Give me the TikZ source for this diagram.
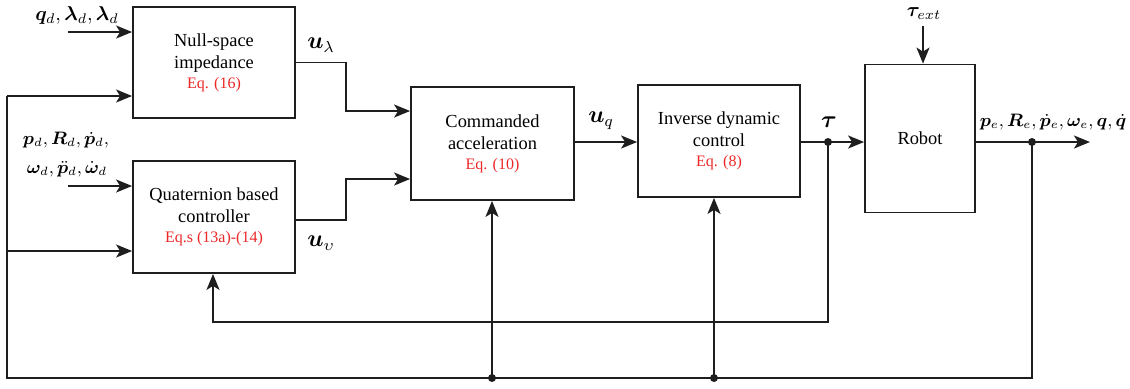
\documentclass[tikz,border=0pt]{standalone}
\usepackage{fontspec}
\setmainfont{Liberation Serif}
\newfontfamily\tms{Liberation Serif}
\usepackage{amsmath}
\usepackage{bm}
\usetikzlibrary{arrows.meta}
\definecolor{eqred}{RGB}{235,40,40}
\definecolor{ln}{RGB}{30,30,30}
\begin{document}
\begin{tikzpicture}[x=0.5pt,y=-0.5pt,
  blk/.style={draw=ln,line width=0.9pt,minimum width=#1,inner sep=0pt,align=center,font=\tms\fontsize{9.2}{11}\selectfont},
  wire/.style={draw=ln,line width=0.9pt},
  arr/.style={wire,-{Stealth[length=8pt,width=6.5pt,inset=2pt]}},
  dot/.style={circle,fill=ln,inner sep=0pt,minimum size=4pt},
  lbl/.style={inner sep=0pt,font=\fontsize{9}{11}\selectfont},
  big/.style={inner sep=0pt,font=\fontsize{11.5}{13}\selectfont}]
\useasboundingbox (0,0) rectangle (1130,388);
% blocks
\node[blk=81pt,minimum height=55.5pt] (nsi) at (214,62.5) {Null-space\\impedance\\[-1pt]{\color{eqred}\fontsize{8}{10}\selectfont Eq. (16)}};
\node[blk=81pt,minimum height=56pt] (qbc) at (214,217) {Quaternion based\\controller\\[-1pt]{\color{eqred}\fontsize{8}{10}\selectfont Eq.s (13a)-(14)}};
\node[blk=81.5pt,minimum height=56.5pt] (cmd) at (492.5,143.5) {Commanded\\acceleration\\[-1pt]{\color{eqred}\fontsize{8}{10}\selectfont Eq. (10)}};
\node[blk=81pt,minimum height=56pt] (idc) at (719,141) {Inverse dynamic\\control\\[-1pt]{\color{eqred}\fontsize{8}{10}\selectfont Eq. (8)}};
\node[blk=55pt,minimum height=74pt] (rob) at (920,138.5) {Robot};
% junction coordinates
\coordinate (jt) at (828,142);
\coordinate (jo) at (1032,142);
\coordinate (out) at (1090,142);
\coordinate (ext) at (923,26);
\coordinate (in1) at (68,32);
\coordinate (in2) at (68,186);
\coordinate (lb) at (7,378);
\coordinate (b1) at (492,378);
\coordinate (b2) at (714,378);
% labels
\node[lbl,font=\fontsize{9.6}{11}\selectfont] (l1) at (77,15) {$\bm{q}_d,\bm{\lambda}_d,\bm{\lambda}_d$};
\node[lbl] (l2a) at (66,140) {$\bm{p}_d,\bm{R}_d,\dot{\bm{p}}_d,$};
\node[lbl] (l2b) at (67,169) {$\bm{\omega}_d,\ddot{\bm{p}}_d,\dot{\bm{\omega}}_d$};
\node[big] (lul) at (321,45) {$\bm{u}_\lambda$};
\node[big] (luv) at (321,243) {$\bm{u}_\upsilon$};
\node[big] (luq) at (601,121) {$\bm{u}_q$};
\node[big] (ltau) at (829,122) {$\bm{\tau}$};
\node[lbl,font=\fontsize{10.3}{12}\selectfont] (lext) at (924,14) {$\bm{\tau}_{ext}$};
\node[lbl,font=\fontsize{8.9}{11}\selectfont] (lout) at (1053,122) {$\bm{p}_e,\bm{R}_e,\dot{\bm{p}}_e,\bm{\omega}_e,\bm{q},\dot{\bm{q}}$};
% inputs
\draw[arr] (in1) -- (nsi.west |- in1);
\draw[arr] (in2) -- (qbc.west |- in2);
\draw[arr] (ext) -- (rob.north -| ext);
% outputs of left blocks
\draw[arr] (nsi.east) -- (346,62.5) |- (cmd.west |- 0,111);
\draw[arr] (qbc.east |- 0,220) -- (346,220) |- (cmd.west |- 0,179);
% main chain
\draw[arr] (cmd.east |- 0,142) -- (idc.west |- 0,142);
\draw[arr] (idc.east |- 0,142) -- (rob.west |- 0,142);
\draw[arr] (rob.east |- 0,142) -- (out);
\node[dot] (dt) at (jt) {};
\node[dot] (do) at (jo) {};
% tau feedback to quaternion controller
\draw[arr] (dt.center) -- (828,322) -| (qbc.south -| 213,0);
% state feedback
\draw[wire] (do.center) |- (lb) -- (7,96);
\draw[arr] (7,96) -- (nsi.west |- 0,96);
\draw[arr] (7,251) -- (qbc.west |- 0,251);
\node[dot] (d1) at (b1) {};
\node[dot] (d2) at (b2) {};
\draw[arr] (d1.center) -- (cmd.south -| d1);
\draw[arr] (d2.center) -- (idc.south -| d2);
\end{tikzpicture}
\end{document}
